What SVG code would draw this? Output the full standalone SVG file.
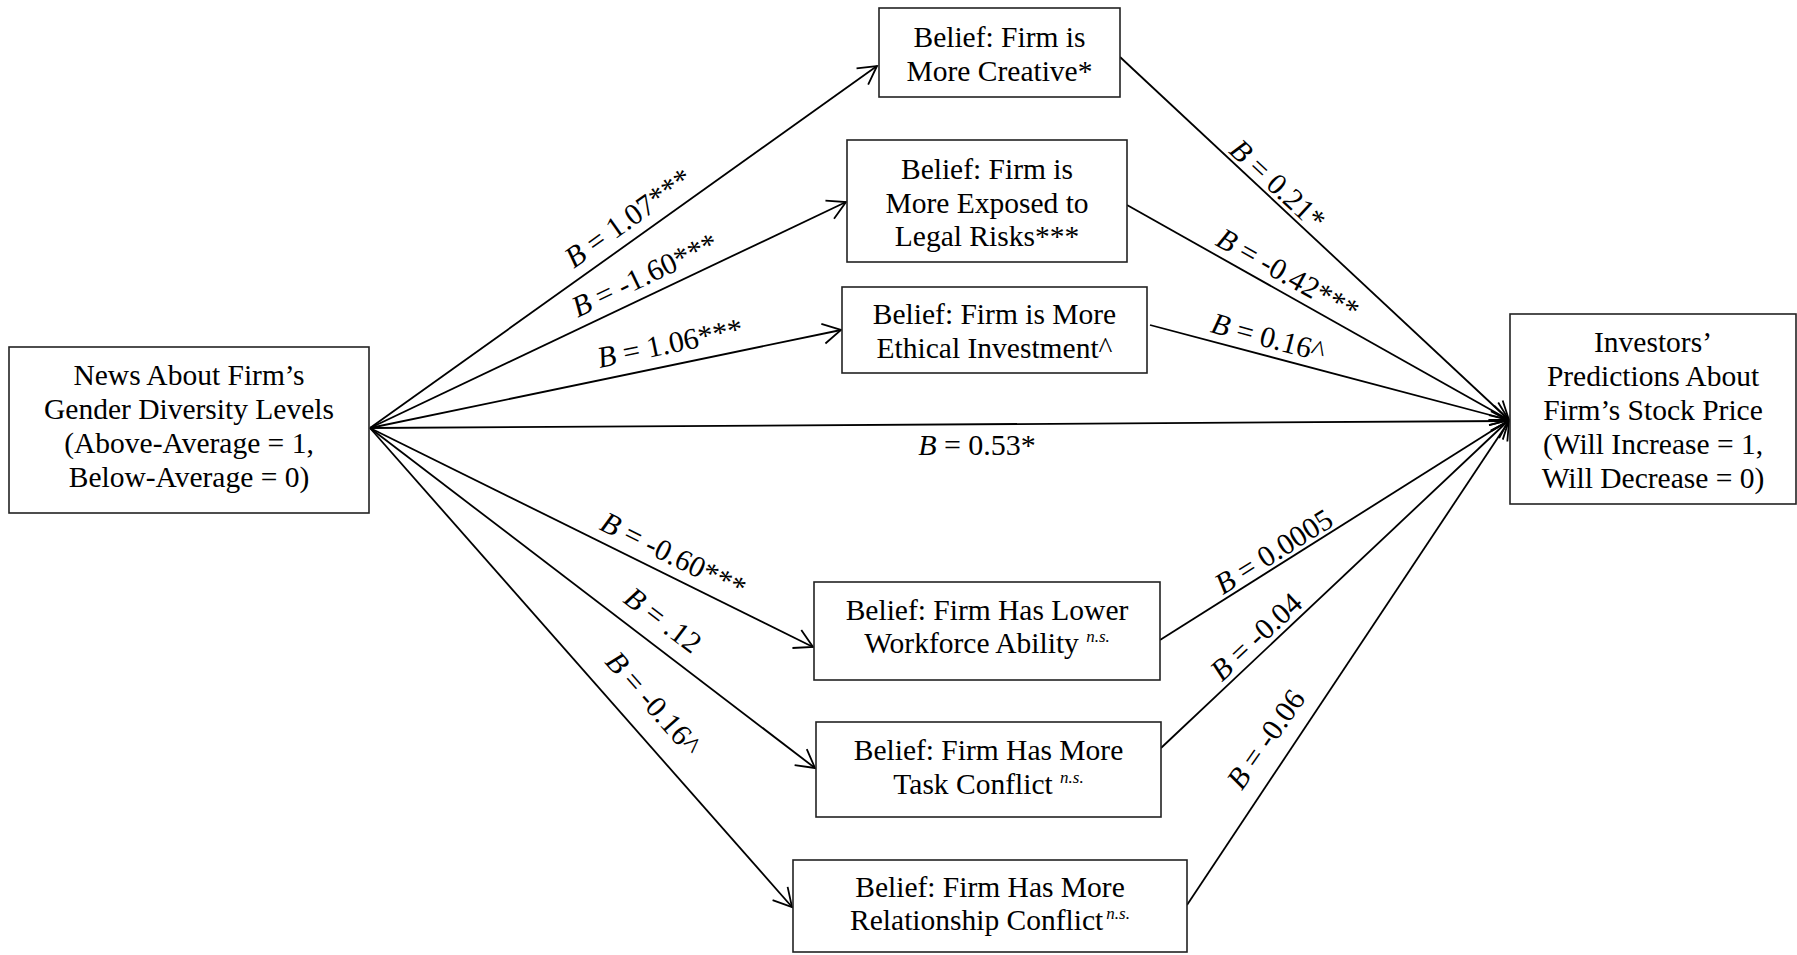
<svg xmlns="http://www.w3.org/2000/svg" width="1797" height="955" viewBox="0 0 1797 955">
<style>
.box{fill:#fff;stroke:#222;stroke-width:1.6}
.t{font-family:"Liberation Serif","Times New Roman",serif;font-size:29.5px;fill:#000;text-anchor:middle}
.l{font-family:"Liberation Serif","Times New Roman",serif;font-size:30px;fill:#000;text-anchor:middle}
.i{font-style:italic}
.sup{font-style:italic;font-size:17px}
.c{fill:none;stroke:#000;stroke-width:1.8}
</style>
<defs>
<marker id="arr" markerUnits="userSpaceOnUse" markerWidth="30" markerHeight="30" viewBox="-25 -15 30 30" refX="0" refY="0" orient="auto" overflow="visible">
<path d="M-18,-10 L0,0 L-18,10" fill="none" stroke="#000" stroke-width="1.8"/>
</marker>
</defs>
<rect width="1797" height="955" fill="#fff"/>
<g id="connectors">
<line class="c" x1="370" y1="428" x2="877" y2="66" marker-end="url(#arr)"/>
<line class="c" x1="370" y1="428" x2="846" y2="202" marker-end="url(#arr)"/>
<line class="c" x1="370" y1="428" x2="841" y2="330" marker-end="url(#arr)"/>
<line class="c" x1="370" y1="428" x2="1509" y2="421" marker-end="url(#arr)"/>
<line class="c" x1="370" y1="428" x2="813" y2="647" marker-end="url(#arr)"/>
<line class="c" x1="370" y1="428" x2="815" y2="768" marker-end="url(#arr)"/>
<line class="c" x1="370" y1="428" x2="792" y2="907" marker-end="url(#arr)"/>
<line class="c" x1="1120" y1="57" x2="1509" y2="420" marker-end="url(#arr)"/>
<line class="c" x1="1127" y1="205" x2="1509" y2="420" marker-end="url(#arr)"/>
<line class="c" x1="1150" y1="325" x2="1509" y2="420" marker-end="url(#arr)"/>
<line class="c" x1="1160" y1="640" x2="1509" y2="420" marker-end="url(#arr)"/>
<line class="c" x1="1161" y1="748" x2="1509" y2="420" marker-end="url(#arr)"/>
<line class="c" x1="1187" y1="905" x2="1509" y2="421" marker-end="url(#arr)"/>
<g id="labels">
<text class="l" transform="translate(634,226) rotate(-35.5)"><tspan class="i">B</tspan> = 1.07***</text>
<text class="l" transform="translate(649,284) rotate(-25.35)"><tspan class="i">B</tspan> = -1.60***</text>
<text class="l" transform="translate(672,353) rotate(-11.75)"><tspan class="i">B</tspan> = 1.06***</text>
<text class="l" transform="translate(977,455)"><tspan class="i">B</tspan> = 0.53*</text>
<text class="l" transform="translate(669,564) rotate(26.3)"><tspan class="i">B</tspan> = -0.60***</text>
<text class="l" transform="translate(657,628) rotate(37.3)"><tspan class="i">B</tspan> = .12</text>
<text class="l" transform="translate(646,710) rotate(48.5)"><tspan class="i">B</tspan> = -0.16^</text>
<text class="l" transform="translate(1271,192) rotate(42.9)"><tspan class="i">B</tspan> = 0.21*</text>
<text class="l" transform="translate(1283,283) rotate(29.3)"><tspan class="i">B</tspan> = -0.42***</text>
<text class="l" transform="translate(1266,347) rotate(14.8)"><tspan class="i">B</tspan> = 0.16^</text>
<text class="l" transform="translate(1279,560) rotate(-32.2)"><tspan class="i">B</tspan> = 0.0005</text>
<text class="l" transform="translate(1263,644) rotate(-43.1)"><tspan class="i">B</tspan> = -0.04</text>
<text class="l" transform="translate(1274,745) rotate(-55)"><tspan class="i">B</tspan> = -0.06</text>
</g>
</g>
<g id="news">
<rect class="box" x="9" y="347" width="360" height="166"/>
<text class="t" x="189" y="385">News About Firm’s</text>
<text class="t" x="189" y="419">Gender Diversity Levels</text>
<text class="t" x="189" y="453">(Above-Average = 1,</text>
<text class="t" x="189" y="487">Below-Average = 0)</text>
</g>
<g id="creative">
<rect class="box" x="879" y="8" width="241" height="89"/>
<text class="t" x="999.5" y="47">Belief: Firm is</text>
<text class="t" x="999.5" y="81">More Creative*</text>
</g>
<g id="legal">
<rect class="box" x="847" y="140" width="280" height="122"/>
<text class="t" x="987" y="179">Belief: Firm is</text>
<text class="t" x="987" y="213">More Exposed to</text>
<text class="t" x="987" y="246">Legal Risks***</text>
</g>
<g id="ethical">
<rect class="box" x="842" y="287" width="305" height="86"/>
<text class="t" x="994.5" y="324">Belief: Firm is More</text>
<text class="t" x="994.5" y="358">Ethical Investment^</text>
</g>
<g id="investors">
<rect class="box" x="1510" y="314" width="286" height="190"/>
<text class="t" x="1653" y="352">Investors’</text>
<text class="t" x="1653" y="386">Predictions About</text>
<text class="t" x="1653" y="420">Firm’s Stock Price</text>
<text class="t" x="1653" y="454">(Will Increase = 1,</text>
<text class="t" x="1653" y="488">Will Decrease = 0)</text>
</g>
<g id="workforce">
<rect class="box" x="814" y="582" width="346" height="98"/>
<text class="t" x="987" y="620">Belief: Firm Has Lower</text>
<text class="t" x="987" y="653">Workforce Ability <tspan class="sup" dy="-11">n.s.</tspan></text>
</g>
<g id="task">
<rect class="box" x="816" y="722" width="345" height="95"/>
<text class="t" x="988.5" y="760">Belief: Firm Has More</text>
<text class="t" x="988.5" y="794">Task Conflict <tspan class="sup" dy="-11">n.s.</tspan></text>
</g>
<g id="relationship">
<rect class="box" x="793" y="860" width="394" height="92"/>
<text class="t" x="990" y="897">Belief: Firm Has More</text>
<text class="t" x="990" y="930">Relationship Conflict<tspan class="sup" dx="3" dy="-11">n.s.</tspan></text>
</g>
</svg>
